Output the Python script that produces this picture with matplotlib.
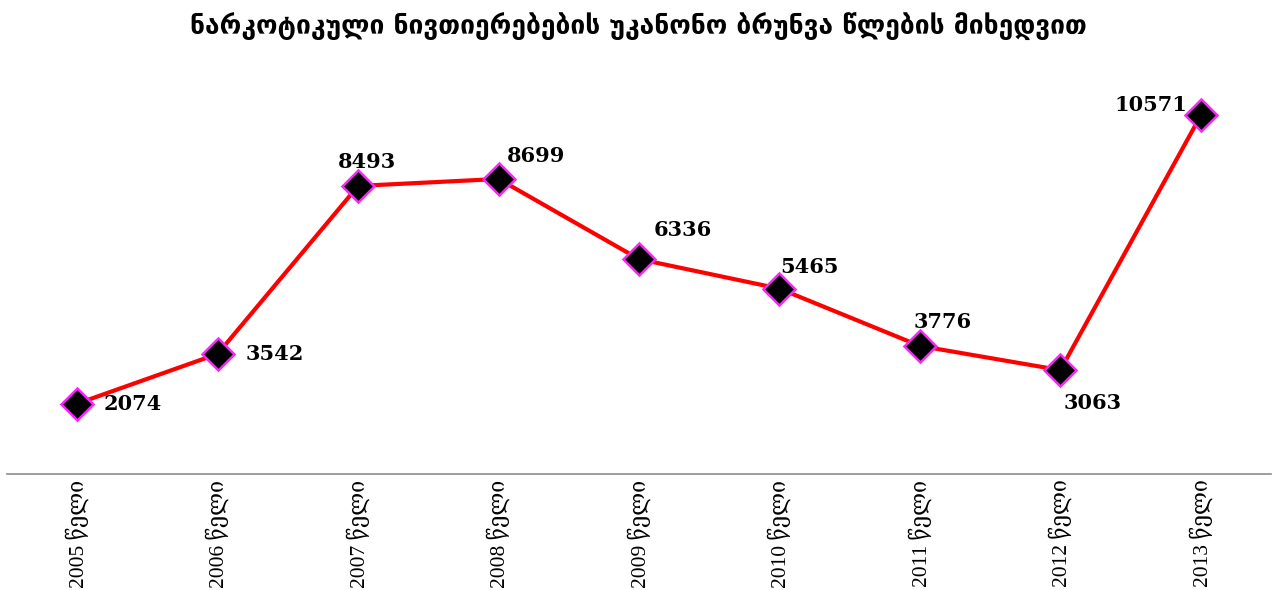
import matplotlib
matplotlib.use("Agg")
import matplotlib.pyplot as plt

years = ["2005", "2006", "2007", "2008", "2009", "2010", "2011", "2012", "2013"]
cases = [2074, 3542, 8493, 8699, 6336, 5465, 3776, 3063, 10571]
suffix = "წელი"
title = "ნარკოტიკული ნივთიერებების უკანონო ბრუნვა წლების მიხედვით"

# label placement (pixels from the point, alignment)
label_pos = [
    ((26, 0), "left", "center"),
    ((28, 0), "left", "center"),
    ((9, 24), "center", "center"),
    ((8, 23), "left", "center"),
    ((15, 29), "left", "center"),
    ((1, 22), "left", "center"),
    ((-6, 24), "left", "center"),
    ((3, -33), "left", "center"),
    ((-13, 10), "right", "center"),
]

fig = plt.figure(figsize=(12.77, 5.9), dpi=100)
ax = fig.add_axes([7 / 1277, 1 - 474 / 590, 1264 / 1277, (474 - 67) / 590])

x = list(range(len(years)))
ax.plot(x, cases, color="#ff0000", lw=3, marker="D", markersize=16,
        markerfacecolor="black", markeredgecolor="#ff22ff", markeredgewidth=1.8,
        zorder=3)

for i, v in enumerate(cases):
    (dx, dy), ha, va = label_pos[i]
    ax.annotate(str(v), (i, v), xytext=(dx, dy), textcoords="offset pixels",
                ha=ha, va=va, fontsize=15, fontweight="bold",
                family=["DejaVu Serif"], color="black")

ax.set_xlim(-0.5, len(years) - 0.5)
ax.set_ylim(0, 12000)
ax.set_xticks(x)
ax.set_xticklabels([f"{y} {suffix}" for y in years], rotation=90,
                   family=["Liberation Serif", "DejaVu Serif"], fontsize=15.5)
ax.tick_params(axis="x", length=0, pad=4)
ax.set_yticks([])
for s in ["left", "right", "top"]:
    ax.spines[s].set_visible(False)
ax.spines["bottom"].set_color("#8c8c8c")
ax.spines["bottom"].set_linewidth(1.2)

fig.text(0.5, 1 - 27 / 590, title, ha="center", va="center", fontsize=19,
         fontweight="bold", family=["DejaVu Sans"])

fig.savefig("out.png", dpi=100)
